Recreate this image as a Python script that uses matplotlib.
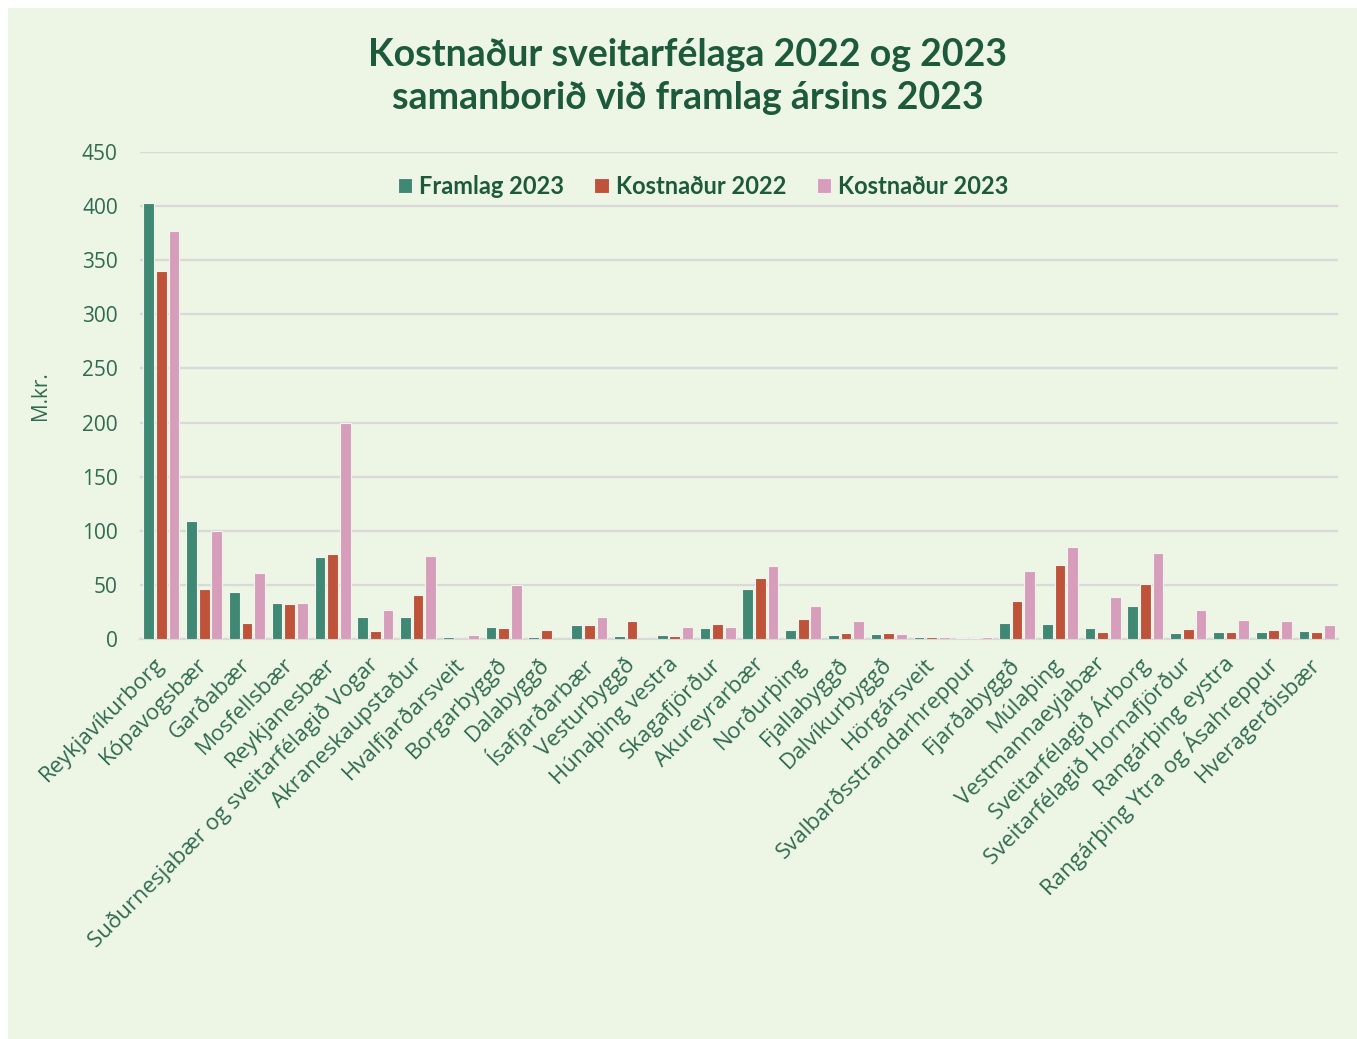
import matplotlib.pyplot as plt
from matplotlib.patches import Rectangle
import numpy as np

sveitarfelog = [
    "Reykjavíkurborg", "Kópavogsbær", "Garðabær", "Mosfellsbær", "Reykjanesbær",
    "Suðurnesjabær og sveitarfélagið Vogar", "Akraneskaupstaður", "Hvalfjarðarsveit",
    "Borgarbyggð", "Dalabyggð", "Ísafjarðarbær", "Vesturbyggð", "Húnaþing vestra",
    "Skagafjörður", "Akureyrarbær", "Norðurþing", "Fjallabyggð", "Dalvíkurbyggð",
    "Hörgársveit", "Svalbarðsstrandarhreppur", "Fjarðabyggð", "Múlaþing",
    "Vestmannaeyjabær", "Sveitarfélagið Árborg", "Sveitarfélagið Hornafjörður",
    "Rangárþing eystra", "Rangárþing Ytra og Ásahreppur", "Hveragerðisbær",
]
framlag_2023 = [403, 109, 43, 33, 76, 20, 20, 1.8, 10.8, 1.8, 12.6, 2.8, 3.4, 9.8,
                46, 8, 3.7, 4.9, 1.8, 0.9, 14.5, 13.8, 10.2, 30.5, 5.8, 6.5, 6.5, 7.1]
kostnadur_2022 = [340, 46, 15, 32, 79, 7.4, 40.6, 0, 9.8, 8.3, 12.6, 16.3, 2.8, 13.5,
                  56, 18.5, 5.5, 5.8, 2.1, 0.9, 35.4, 68.6, 6.2, 50.8, 9.2, 6.5, 8.3, 6.5]
kostnadur_2023 = [377, 100, 60.6, 33, 200, 26.8, 77, 3.4, 49.8, 0, 20.6, 0, 11, 11,
                  67.4, 30.2, 16.3, 4.9, 2.1, 2.1, 62.8, 85, 38.5, 79.4, 26.5, 17.5, 17, 12.6]

dokkgraenn = "#1D5A3C"
textalitur = "#2F6B50"
bakgrunnur = "#EDF5E5"

fig = plt.figure(figsize=(13.57, 10.39), dpi=100, facecolor="white")
fig.patches.append(Rectangle((8 / 1357, 0), 1, 1 - 8 / 1039, transform=fig.transFigure,
                             facecolor=bakgrunnur, edgecolor="none", zorder=-10))

ax = fig.add_axes([140 / 1357, 1 - 639 / 1039, (1338 - 140) / 1357, (639 - 152) / 1039])
ax.set_facecolor("none")

x = np.arange(len(sveitarfelog))
w = 0.25
bar_kw = dict(width=w, edgecolor="#F4F4EE", linewidth=0.8, zorder=3)
ax.bar(x - 0.295, framlag_2023, color="#3F8873", label="Framlag 2023", **bar_kw)
ax.bar(x, kostnadur_2022, color="#BE533A", label="Kostnaður 2022", **bar_kw)
ax.bar(x + 0.295, kostnadur_2023, color="#D69EBB", label="Kostnaður 2023", **bar_kw)

ax.set_xlim(-0.5, len(sveitarfelog) - 0.5)
ax.set_ylim(0, 450)
ax.set_yticks(range(0, 451, 50))
ax.grid(axis="y", color="#D9D9D9", linewidth=1.6, zorder=0)
for s in ["top", "right", "left"]:
    ax.spines[s].set_visible(False)
ax.spines["bottom"].set_color("#D9D9D9")
ax.spines["bottom"].set_linewidth(1.6)
ax.tick_params(axis="y", length=0, pad=16, labelsize=15, labelcolor=textalitur)
ax.tick_params(axis="x", length=0, pad=16)
for lbl in ax.get_yticklabels():
    lbl.set_family("Open Sans")

ax.set_xticks(x)
ax.set_xticklabels(sveitarfelog, rotation=45, ha="right", va="center",
                   rotation_mode="anchor", fontsize=16, color=textalitur,
                   family="Open Sans")

ax.set_ylabel("M.kr.", fontsize=15, color=textalitur, family="Open Sans", labelpad=22)

fig.text(0.507, 0.926, "Kostnaður sveitarfélaga 2022 og 2023\nsamanborið við framlag ársins 2023",
         ha="center", va="center", fontsize=27, fontweight="bold", color=dokkgraenn,
         family=["Lato", "DejaVu Sans"], linespacing=1.32)

leg = ax.legend(loc="center", bbox_to_anchor=(0.47, 0.93), ncol=3, frameon=False,
                handlelength=0.6, handleheight=0.6, handletextpad=0.3, columnspacing=1.3,
                prop={"family": ["Lato", "DejaVu Sans"], "weight": "bold", "size": 17})
for t in leg.get_texts():
    t.set_color(dokkgraenn)

fig.savefig("out.png", dpi=100, facecolor="white")
